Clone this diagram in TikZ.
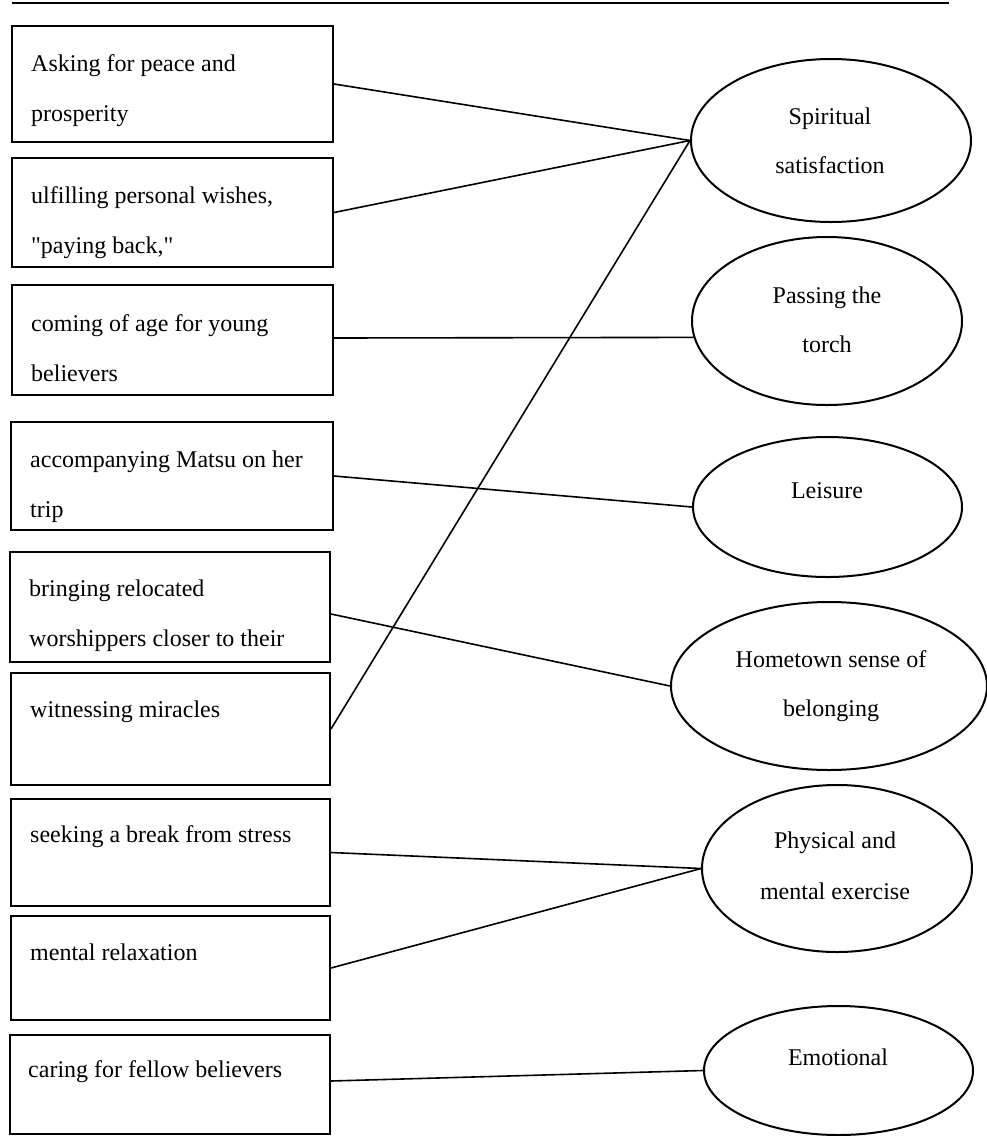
\documentclass[tikz,border=0pt]{standalone}
\usepackage{fontspec}
\setmainfont{Liberation Serif}[Ligatures=TeXOff]
\usetikzlibrary{shapes.geometric,calc}
\tikzset{
  box/.style={draw, line width=2pt, rectangle, inner sep=0pt},
  oval/.style={draw, line width=2pt, ellipse, inner sep=0pt},
  boxtxt/.style={anchor=base west, inner sep=0pt},
  ovaltxt/.style={anchor=base, inner sep=0pt},
  link/.style={line width=1.6pt},
  rule/.style={line width=2.2pt}
}
\newcommand{\btext}[1]{\parbox[t]{300pt}{\fontsize{24}{50}\selectfont\raggedright #1}}
\newcommand{\otext}[2]{\parbox[t]{300pt}{\fontsize{24}{#1}\selectfont\centering #2}}
\begin{document}
\begin{tikzpicture}[x=1pt,y=-1pt]
\useasboundingbox (0,0) rectangle (986,1136);
% top rule
\coordinate (r1) at (12,3);
\coordinate (r2) at (949,3);
\draw[rule] (r1) -- (r2);
% boxes
\node[box, minimum width=321pt, minimum height=116pt] (b1) at (172.5,84) {};
\node[box, minimum width=321pt, minimum height=109pt] (b2) at (172.5,212.5) {};
\node[box, minimum width=321pt, minimum height=110pt] (b3) at (172.5,340) {};
\node[box, minimum width=322pt, minimum height=108pt] (b4) at (172,476) {};
\node[box, minimum width=320pt, minimum height=110pt] (b5) at (170,607) {};
\node[box, minimum width=319pt, minimum height=112pt] (b6) at (170.5,729) {};
\node[box, minimum width=319pt, minimum height=107pt] (b7) at (170.5,852.5) {};
\node[box, minimum width=319pt, minimum height=104pt] (b8) at (170.5,968) {};
\node[box, minimum width=320pt, minimum height=99pt] (b9) at (170,1084.5) {};
% box texts
\node[boxtxt] (t1) at (31,71) {\btext{Asking for peace and\\prosperity}};
\node[boxtxt] (t2) at (31,203) {\btext{ulfilling personal wishes,\\"paying back,"}};
\node[boxtxt] (t3) at (31,331) {\btext{coming of age for young\\believers}};
\node[boxtxt] (t4) at (30,467) {\btext{accompanying Matsu on her\\trip}};
\node[boxtxt] (t5) at (29,596) {\btext{bringing relocated\\worshippers closer to their}};
\node[boxtxt] (t6) at (30,717) {\btext{witnessing miracles}};
\node[boxtxt] (t7) at (30,842) {\btext{seeking a break from stress}};
\node[boxtxt] (t8) at (30,960) {\btext{mental relaxation}};
\node[boxtxt] (t9) at (28,1077) {\btext{caring for fellow believers}};
% ellipses
\node[oval, minimum width=280pt, minimum height=163pt] (e1) at (831,140.5) {};
\node[oval, minimum width=270pt, minimum height=168pt] (e2) at (827,321) {};
\node[oval, minimum width=269pt, minimum height=140pt] (e3) at (827.5,507) {};
\node[oval, minimum width=316pt, minimum height=168pt] (e4) at (829,686) {};
\node[oval, minimum width=270pt, minimum height=167pt] (e5) at (837,868.5) {};
\node[oval, minimum width=269pt, minimum height=129pt] (e6) at (838.5,1070.5) {};
% ellipse texts
\node[ovaltxt] (o1) at (830,124) {\otext{49}{Spiritual\\satisfaction}};
\node[ovaltxt] (o2) at (827,303) {\otext{49}{Passing the\\torch}};
\node[ovaltxt] (o3) at (827,498) {\otext{49}{Leisure}};
\node[ovaltxt] (o4) at (831,667) {\otext{49}{Hometown sense of\\belonging}};
\node[ovaltxt] (o5) at (835,848) {\otext{51}{Physical and\\mental exercise}};
\node[ovaltxt] (o6) at (838,1065) {\otext{49}{Emotional}};
% connectors
\draw[link] (b1.east) -- (e1.west);
\draw[link] (b2.east) -- (e1.west);
\draw[link] ([yshift=2pt]b3.east) -- (e2.187);
\draw[link] (b4.east) -- (e3.west);
\draw[link] ([yshift=-7pt]b5.east) -- (e4.west);
\draw[link] (b6.east) -- (e1.west);
\draw[link] (b7.east) -- (e5.west);
\draw[link] (b8.east) -- (e5.west);
\draw[link] ([yshift=3.5pt]b9.east) -- (e6.west);
\end{tikzpicture}
\end{document}
